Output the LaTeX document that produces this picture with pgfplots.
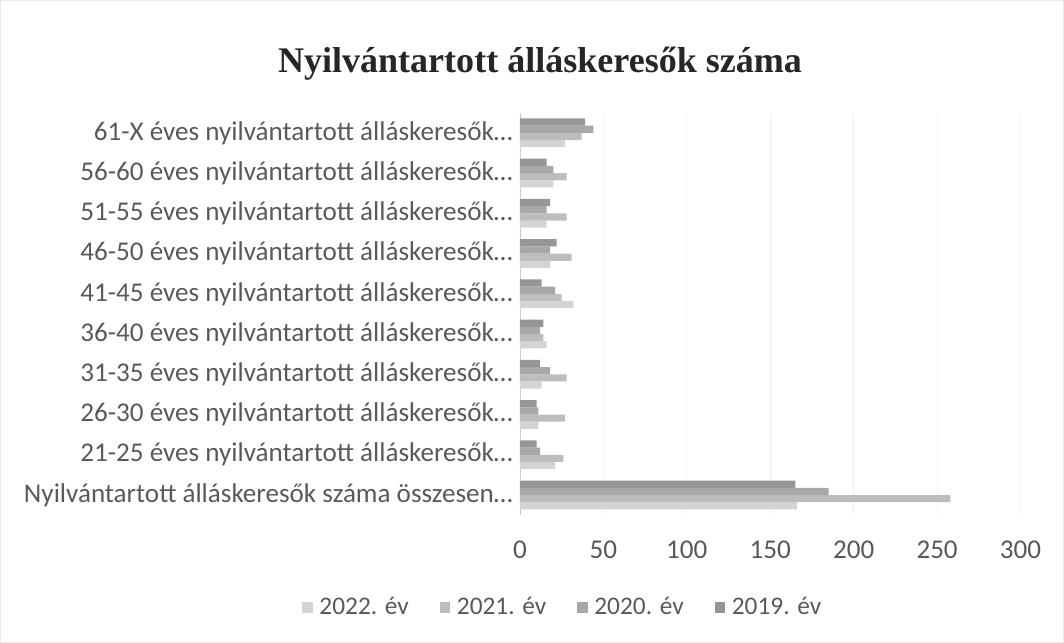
\documentclass[border=0pt]{standalone}
\usepackage{fontspec}
\setmainfont{Carlito}
\newfontfamily\titlefont{Liberation Serif}
\usepackage{pgfplots}
\usepackage{pgfplotstable}
\pgfplotsset{compat=1.18}

% category index, then the four years
\pgfplotstableread{
cat y2022 y2021 y2020 y2019
0   166   258   185   165
1   21    26    12    10
2   11    27    11    10
3   13    28    18    12
4   16    14    12    14
5   32    25    21    13
6   18    31    18    22
7   16    28    16    18
8   20    28    20    16
9   27    37    44    39
}\jobs

\definecolor{txt}{HTML}{595959}
\definecolor{c22}{HTML}{D4D4D4}
\definecolor{c21}{HTML}{BDBDBD}
\definecolor{c20}{HTML}{A8A8A8}
\definecolor{c19}{HTML}{969696}

\begin{document}
\begin{tikzpicture}
\begin{axis}[
  scale only axis, width=375pt, height=301.5pt,
  xbar=0pt, bar width=5.4pt,
  xmin=0, xmax=300, xtick={0,50,...,300},
  ymin=-0.5, ymax=9.5, ytick={0,1,2,3,4,5,6,7,8,9},
  yticklabels={
    {Nyilvántartott álláskeresők száma összesen…},
    {21-25 éves nyilvántartott álláskeresők…},
    {26-30 éves nyilvántartott álláskeresők…},
    {31-35 éves nyilvántartott álláskeresők…},
    {36-40 éves nyilvántartott álláskeresők…},
    {41-45 éves nyilvántartott álláskeresők…},
    {46-50 éves nyilvántartott álláskeresők…},
    {51-55 éves nyilvántartott álláskeresők…},
    {56-60 éves nyilvántartott álláskeresők…},
    {61-X éves nyilvántartott álláskeresők…}},
  tick label style={font=\fontsize{20.3}{22}\selectfont, text=txt},
  /pgf/number format/assume math mode=true,
  xticklabel style={yshift=-16pt},
  yticklabel style={xshift=-2pt},
  major tick length=0pt,
  xmajorgrids, grid style={draw=black!5, line width=0.6pt},
  axis x line*=bottom, axis y line*=left,
  x axis line style={draw=none},
  y axis line style={draw=black!20, line width=0.6pt},
  title={\titlefont\bfseries Nyilvántartott álláskeresők száma},
  title style={font=\fontsize{27}{30}\selectfont, text=black!85,
               at={(0.04,1.103)}, anchor=center},
  legend columns=4,
  legend style={at={(0.086,-0.229)}, anchor=center, draw=none, fill=none,
                font=\fontsize{19}{21}\selectfont, text=txt,
                /tikz/every even column/.append style={column sep=21pt}},
  legend image code/.code={\fill[#1] (0pt,-4pt) rectangle (8pt,4pt);
                           \path (0pt,0pt) -- (11pt,0pt);},
  clip=false,
]
\addplot[fill=c22, draw=none] table[x=y2022, y=cat] {\jobs};
\addplot[fill=c21, draw=none] table[x=y2021, y=cat] {\jobs};
\addplot[fill=c20, draw=none] table[x=y2020, y=cat] {\jobs};
\addplot[fill=c19, draw=none] table[x=y2019, y=cat] {\jobs};
\legend{2022. év, 2021. év, 2020. év, 2019. év}
\draw[black!8, line width=0.6pt]
  (rel axis cs:-1.038,-0.316) rectangle (rel axis cs:1.086,1.279);
\end{axis}
\end{tikzpicture}
\end{document}
